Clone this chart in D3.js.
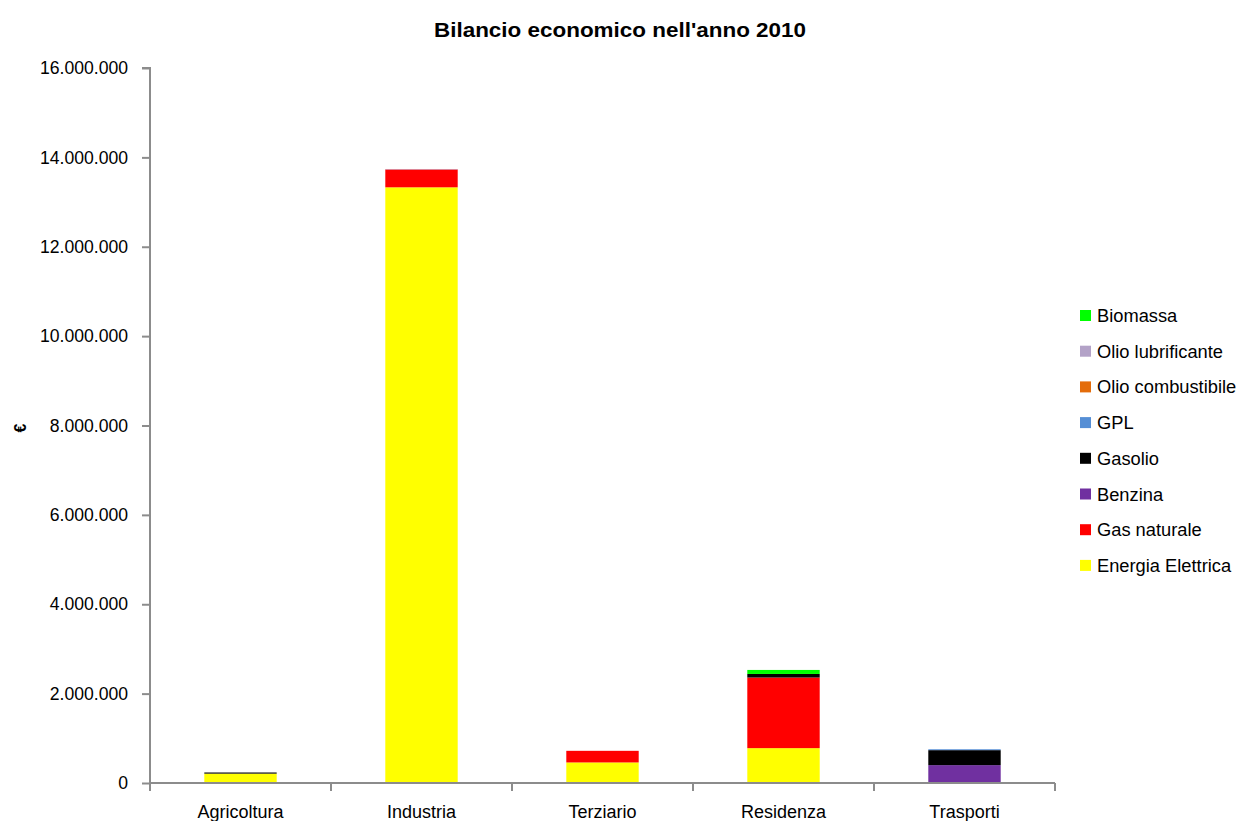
<!DOCTYPE html>
<html><head><meta charset="utf-8">
<script src="https://cdn.jsdelivr.net/npm/d3@7"></script>
<style>body{margin:0;background:#fff}svg{display:block}text{font-family:"Liberation Sans",Arial,sans-serif;fill:#000}</style>
</head><body><svg id="c" width="1239" height="821"></svg>
<script>
const categories = ["Agricoltura","Industria","Terziario","Residenza","Trasporti"];
const seriesNames = ["Energia Elettrica","Gas naturale","Benzina","Gasolio","GPL","Olio combustibile","Olio lubrificante","Biomassa"];
const seriesColors = ["#ffff00","#ff0000","#7030a0","#000000","#558ed5","#e46c0a","#b3a2c7","#00ff00"];
const energiaElettrica = [210000, 13330000, 460000, 780000, 0];
const gasNaturale      = [0, 400000, 260000, 1580000, 0];
const benzina          = [0, 0, 0, 0, 400000];
const gasolio          = [25000, 0, 0, 80000, 335000];
const gpl              = [0, 0, 0, 0, 20000];
const olioCombustibile = [0, 0, 0, 0, 0];
const olioLubrificante = [0, 10000, 0, 0, 0];
const biomassa         = [0, 0, 0, 90000, 0];
const yTicks = [0,2000000,4000000,6000000,8000000,10000000,12000000,14000000,16000000];
const title = "Bilancio economico nell'anno 2010";
const yLabel = "€";

const seriesValues = [energiaElettrica,gasNaturale,benzina,gasolio,gpl,olioCombustibile,olioLubrificante,biomassa];
const rows = categories.map((c,i)=>{const r={cat:c};seriesNames.forEach((s,j)=>r[s]=seriesValues[j][i]);return r;});
const stack = d3.stack().keys(seriesNames)(rows);

const svg = d3.select("#c");
const L=150,R=1055,T=68,B=783;
const x = d3.scaleBand().domain(categories).range([L,R]).paddingInner(0.6).paddingOuter(0.3);
const y = d3.scaleLinear().domain([0,16000000]).range([B,T]);
const fmt = v => d3.format(",")(v).replace(/,/g,".");

svg.append("text").attr("x",620).attr("y",37).attr("text-anchor","middle")
  .style("font-weight","bold").style("font-size","20px").attr("textLength",372).attr("lengthAdjust","spacingAndGlyphs").text(title);

// bars
svg.append("g").selectAll("g").data(stack).join("g").attr("fill",(d,i)=>seriesColors[i])
  .selectAll("rect").data(d=>d.map(v=>Object.assign(v,{cat:v.data.cat}))).join("rect")
  .attr("x",d=>x(d.cat)).attr("width",x.bandwidth())
  .attr("y",d=>y(d[1])).attr("height",d=>Math.max(0,y(d[0])-y(d[1])));

// y axis
const ya = svg.append("g").attr("transform",`translate(${L},0)`)
  .call(d3.axisLeft(y).tickValues(yTicks).tickFormat(fmt).tickSize(8).tickPadding(14));
ya.select(".domain").attr("stroke","#8c8c8c").attr("stroke-width",2).attr("d",`M-8,${T}H0V${B}`);
ya.selectAll(".tick line").attr("stroke","#8c8c8c").attr("stroke-width",2);
ya.selectAll(".tick text").style("font-size","17.6px").style("font-family","Liberation Sans, Arial, sans-serif").attr("fill","#000");

// x axis
const xa = svg.append("g").attr("transform",`translate(0,${B})`);
xa.append("line").attr("x1",L).attr("x2",R).attr("stroke","#8c8c8c").attr("stroke-width",2);
const step = (R-L)/categories.length;
const bounds = d3.range(categories.length+1).map(i=>L+i*step);
xa.selectAll("line.t").data(bounds).join("line").attr("class","t")
  .attr("x1",d=>d).attr("x2",d=>d).attr("y1",0).attr("y2",8).attr("stroke","#8c8c8c").attr("stroke-width",2);
xa.selectAll("text").data(categories).join("text")
  .attr("x",d=>x(d)+x.bandwidth()/2).attr("y",35).attr("text-anchor","middle")
  .style("font-size","18px").text(d=>d);

svg.append("text").attr("transform","translate(26,428) rotate(-90)").attr("text-anchor","middle")
  .style("font-weight","bold").style("font-size","16px").text(yLabel);

// legend
const legOrder = seriesNames.map((s,i)=>i).reverse();
const lg = svg.append("g").selectAll("g").data(legOrder).join("g")
  .attr("transform",(d,i)=>`translate(1080,${316+i*35.7})`);
lg.append("rect").attr("x",0).attr("y",-6).attr("width",11).attr("height",11).attr("fill",d=>seriesColors[d]);
lg.append("text").attr("x",17).attr("y",6).style("font-size","18.3px").text(d=>seriesNames[d]);
</script></body></html>
